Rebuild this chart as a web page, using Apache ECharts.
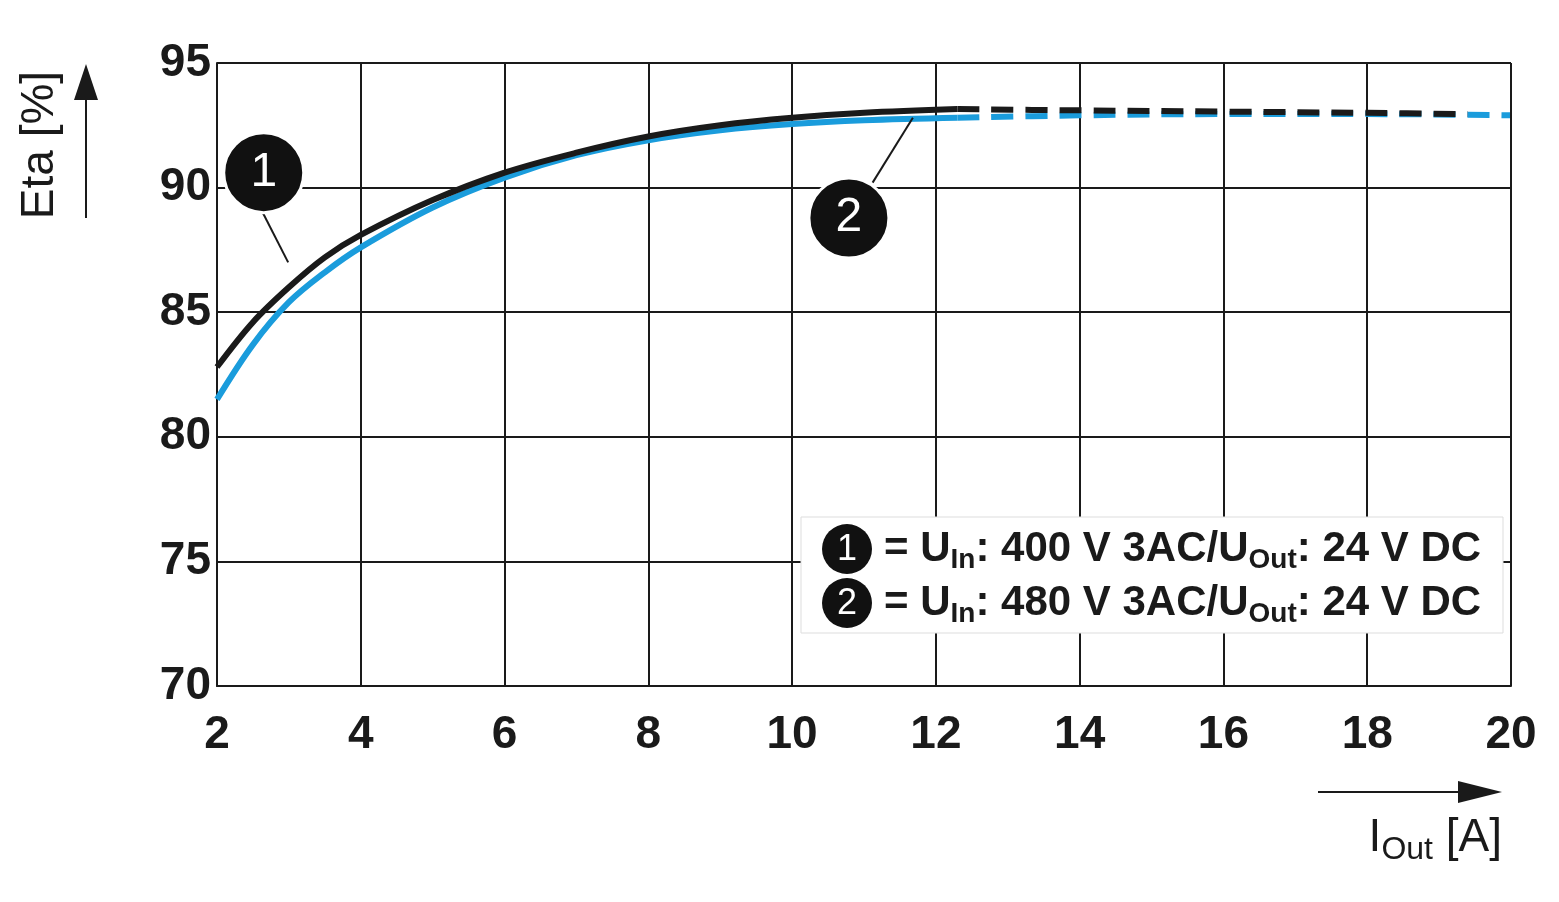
<!DOCTYPE html><html><head><meta charset="utf-8"><script src="https://cdn.jsdelivr.net/npm/echarts@6/dist/echarts.min.js"></script>
<style>html,body{margin:0;background:#fff}#c{width:1559px;height:902px}</style></head><body><div id="c"></div><script>
const xTicks=[2,4,6,8,10,12,14,16,18,20];
const yTicks=[70,75,80,85,90,95];
const c1Solid=[[2,82.8],[2.5,84.6],[3,86.0],[3.5,87.2],[4,88.1],[5,89.5],[6,90.6],[7,91.4],[8,92.05],[9,92.5],[10,92.8],[11,93.0],[12.3,93.15]];
const c1Dash=[[12.3,93.15],[14,93.1],[16,93.05],[18,93.0],[19.4,92.95]];
const c2Solid=[[2,81.5],[2.5,83.7],[3,85.4],[3.5,86.6],[4,87.6],[5,89.2],[6,90.4],[7,91.3],[8,91.9],[9,92.3],[10,92.55],[11,92.7],[12.3,92.8]];
const c2Dash=[[12.3,92.8],[14,92.9],[16,92.95],[18,92.95],[20,92.9]];
const markers=[{value:[2.65,90.6],name:'1'},{value:[10.79,88.78],name:'2'}];
const leaders=[[[2.6,89.2],[2.99,87.0]],[[11.12,90.2],[11.68,92.8]]];
const blk='#1a1a1a',blu='#1a9cdc';
const ch=echarts.init(document.getElementById('c'));
const lineS=(d,col,dash)=>({type:'line',data:d,showSymbol:false,smooth:0.35,lineStyle:{color:col,width:6,type:dash?[22,12]:'solid'},z:dash?2:3});
ch.setOption({animation:false,
grid:{left:217,right:48,top:63,bottom:216},
xAxis:{type:'value',min:2,max:20,interval:2,axisLine:{lineStyle:{color:blk,width:2}},axisTick:{show:false},
 splitLine:{lineStyle:{color:blk,width:2}},axisLabel:{color:blk,fontSize:46,fontWeight:'bold',fontFamily:'Liberation Sans',margin:26}},
yAxis:{type:'value',min:70,max:95,interval:5,axisLine:{show:true,lineStyle:{color:blk,width:2}},axisTick:{show:false},
 splitLine:{lineStyle:{color:blk,width:2}},axisLabel:{color:blk,fontSize:46,fontWeight:'bold',fontFamily:'Liberation Sans',margin:6}},
series:[
 {type:'line',data:[[20,70],[20,95]],showSymbol:false,lineStyle:{color:blk,width:2},silent:true},
 {type:'line',data:[[2,95],[20,95]],showSymbol:false,lineStyle:{color:blk,width:2},silent:true},
 lineS(c2Dash,blu,true),lineS(c1Dash,blk,true),lineS(c2Solid,blu,false),lineS(c1Solid,blk,false),
 ...leaders.map(l=>({type:'line',data:l,showSymbol:false,lineStyle:{color:blk,width:2},z:4})),
 {type:'scatter',data:markers,symbolSize:80,z:5,itemStyle:{color:'#111',opacity:1,borderColor:'#fff',borderWidth:3},
  label:{show:true,position:'inside',formatter:p=>p.name,color:'#fff',fontSize:48,fontFamily:'Liberation Sans'}}
],
graphic:[
 {type:'text',x:40,y:145,rotation:Math.PI/2,style:{text:'Eta [%]',font:'46px Liberation Sans',fill:blk,textAlign:'center',textVerticalAlign:'middle'}},
 {type:'line',shape:{x1:86,y1:218,x2:86,y2:90},style:{stroke:blk,lineWidth:2}},
 {type:'polygon',shape:{points:[[74,100],[98,100],[86,64]]},style:{fill:blk}},
 {type:'line',shape:{x1:1318,y1:792,x2:1470,y2:792},style:{stroke:blk,lineWidth:2}},
 {type:'polygon',shape:{points:[[1458,781],[1458,803],[1502,792]]},style:{fill:blk}},
 {type:'text',x:1502,y:838,style:{text:'{a|I}{s|Out}{a| [A]}',textAlign:'right',textVerticalAlign:'middle',rich:{a:{font:'46px Liberation Sans',fill:blk},s:{font:'32px Liberation Sans',fill:blk,padding:[24,0,0,0]}}}},
 {type:'rect',shape:{x:801,y:517,width:702,height:116},style:{fill:'#fff',stroke:'#ddd',lineWidth:1},z:10},
 {type:'circle',shape:{cx:847,cy:549,r:25},style:{fill:'#111'},z:11},
 {type:'circle',shape:{cx:847,cy:603,r:25},style:{fill:'#111'},z:11},
 {type:'text',x:847,y:550,z:12,style:{text:'1',font:'36px Liberation Sans',fill:'#fff',textAlign:'center',textVerticalAlign:'middle'}},
 {type:'text',x:847,y:604,z:12,style:{text:'2',font:'36px Liberation Sans',fill:'#fff',textAlign:'center',textVerticalAlign:'middle'}},
 ...[['400',549],['480',603]].map(([v,y])=>({type:'text',x:884,y:y,z:12,style:{text:'{a|= U}{s|In}{a|: '+v+' V 3AC/U}{s|Out}{a|: 24 V DC}',textVerticalAlign:'middle',
  rich:{a:{font:'bold 42px Liberation Sans',fill:blk},s:{font:'bold 28px Liberation Sans',fill:blk,padding:[22,0,0,0]}}}}))
]});
</script></body></html>
